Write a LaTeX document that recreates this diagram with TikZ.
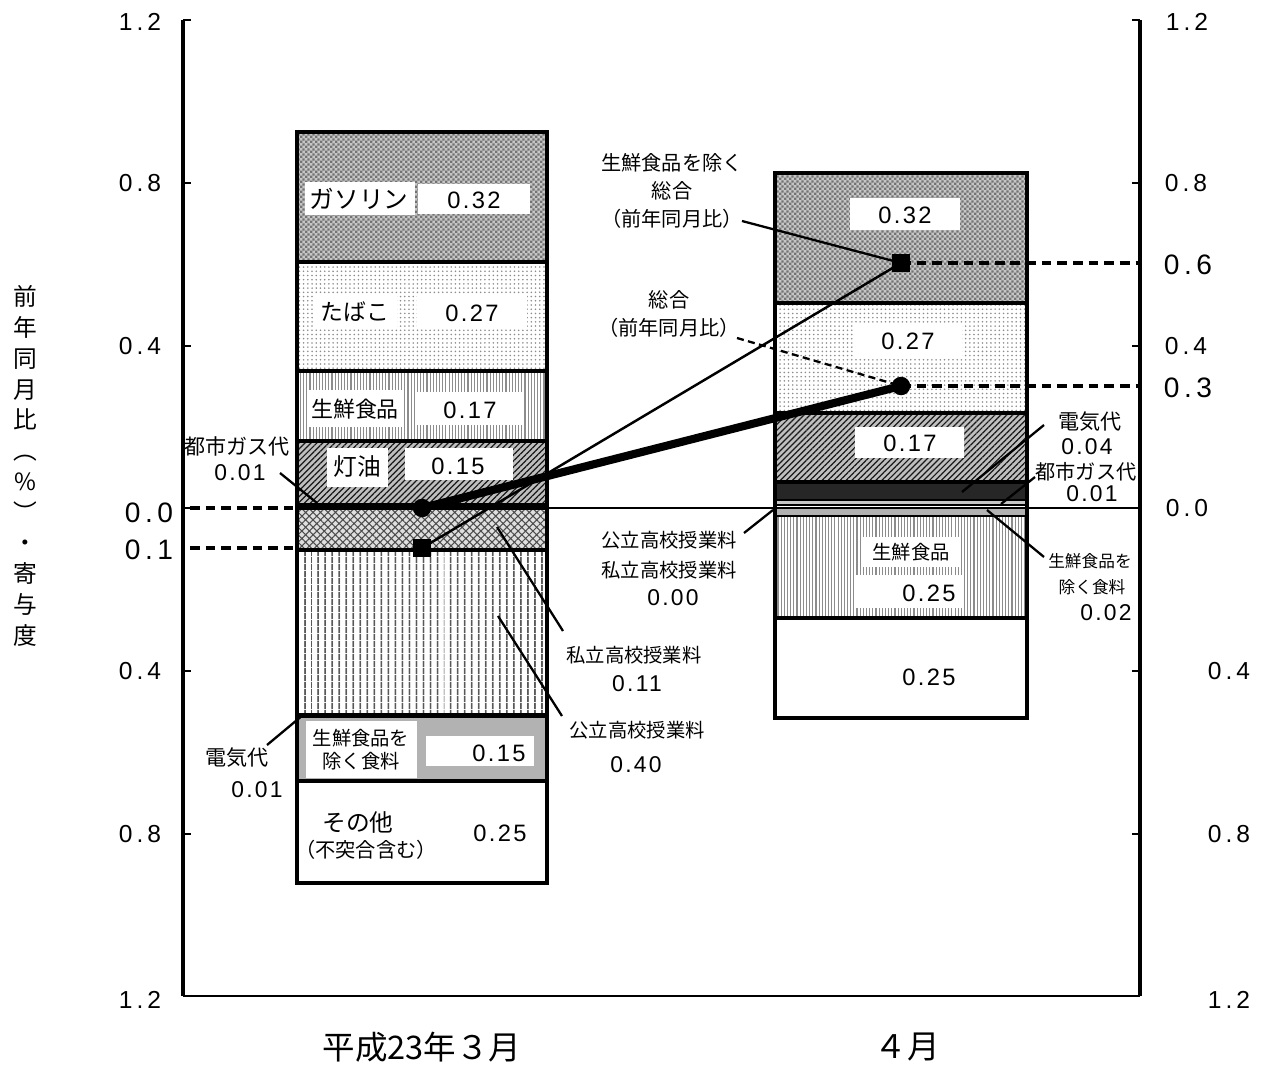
\documentclass[tikz,border=0pt]{standalone}
\usepackage{fontspec}
\setmainfont{Noto Sans CJK JP}
\newfontfamily\numf[LetterSpace=10]{Liberation Sans}
\newfontfamily\tickf[LetterSpace=16]{Liberation Sans}
\usetikzlibrary{patterns,patterns.meta}
\newcommand\myfs[1]{\fontsize{#1}{#1}\selectfont}
\tikzdeclarepattern{
  name=fcheck, type=uncolored,
  bounding box={(0pt,0pt) and (3pt,3pt)},
  tile size={(3pt,3pt)},
  code={\fill (0pt,0pt) rectangle (1.5pt,1.5pt); \fill (1.5pt,1.5pt) rectangle (3pt,3pt);}
}
\tikzset{
  lbl/.style={inner sep=0pt, align=center},
  jl/.style={lbl, font=\myfs{#1}},
  nl/.style={lbl, font=\numf\myfs{#1}},
  tl/.style={lbl, font=\tickf\myfs{#1}},
  gasol/.style={fill=gray!45, postaction={pattern=fcheck, pattern color=gray!90!black}},
  tobac/.style={fill=white, postaction={pattern={Dots[distance=2.4pt, radius=0.5pt]}, pattern color=gray!90}},
  fresh/.style={fill=white, postaction={pattern={Lines[angle=90, distance=1.8pt, line width=0.65pt]}, pattern color=gray!90}},
  kero/.style={fill=gray!50, postaction={pattern={Lines[angle=45, distance=2.4pt, line width=0.7pt]}, pattern color=gray!20!black}},
  priv/.style={fill=gray!25, postaction={pattern={Hatch[angle=45, distance=3pt, line width=0.6pt]}, pattern color=gray!60!black}},
  pub/.style={fill=white, postaction={pattern={Lines[angle=90, distance=4pt, line width=0.8pt]}, pattern color=black}},
  food/.style={fill=gray!60},
  gascity/.style={fill=gray!45},
  barline/.style={line width=2.1pt},
  sepline/.style={line width=1.4pt},
  axisline/.style={line width=2.1pt},
  tick/.style={line width=1.4pt},
  dline/.style={line width=2.1pt, dash pattern=on 5.5pt off 3.4pt},
  leader/.style={line width=1.3pt},
  dleader/.style={line width=1.3pt, dash pattern=on 4pt off 2.5pt},
  dot/.style={circle, fill=black, inner sep=0pt, minimum size=0.37cm},
  sq/.style={rectangle, fill=black, inner sep=0pt, minimum size=0.36cm},
  wbox/.style={fill=white}
}
\begin{document}
\begin{tikzpicture}[x=0.02cm, y=-0.02cm]
\useasboundingbox (0,0) rectangle (1263,1064);
% zero line
\draw[line width=0.8pt] (547,508) -- (1140,508);
% ---------- left bar ----------
\path[gasol] (297,132) rectangle (547,262);
\path[tobac] (297,262) rectangle (547,371);
\path[fresh] (297,371) rectangle (547,441);
\path[kero] (297,441) rectangle (547,503);
\fill[black] (297,503) rectangle (547,508);
\path[priv] (297,508) rectangle (547,550);
\path[pub] (297,550) rectangle (547,713);
\fill[black] (297,713) rectangle (547,718);
\path[food] (297,718) rectangle (547,781);
\fill[white] (297,781) rectangle (547,883);
\draw[barline] (297,132) rectangle (547,883);
\foreach \yy in {262,371,441,508,550,781}{\draw[barline] (297,\yy) -- (547,\yy);}
% ---------- right bar ----------
\path[gasol] (775,173) rectangle (1027,303);
\path[tobac] (775,303) rectangle (1027,413);
\path[kero] (775,413) rectangle (1027,482);
\fill[black!85] (775,482) rectangle (1027,500);
\path[gascity] (775,500) rectangle (1027,505);
\path[food] (775,508) rectangle (1027,516);
\path[fresh] (775,516) rectangle (1027,618);
\fill[white] (775,618) rectangle (1027,718);
\draw[barline] (775,173) rectangle (1027,718);
\foreach \yy in {303,413,482,618}{\draw[barline] (775,\yy) -- (1027,\yy);}
\foreach \yy in {500,505,508,516}{\draw[sepline] (775,\yy) -- (1027,\yy);}
% ---------- white label boxes ----------
\fill[wbox] (305,182) rectangle (415,215);
\fill[wbox] (418,184) rectangle (530,214);
\fill[wbox] (313,294) rectangle (397,328);
\fill[wbox] (417,294) rectangle (527,328);
\fill[wbox] (308,390) rectangle (402,427);
\fill[wbox] (417,392) rectangle (523,425);
\fill[wbox] (327,448) rectangle (388,487);
\fill[wbox] (405,448) rectangle (513,480);
\fill[wbox] (306,721) rectangle (417,778);
\fill[wbox] (426,736) rectangle (534,766);
\fill[wbox] (850,198) rectangle (960,230);
\fill[wbox] (855,325) rectangle (962,357);
\fill[wbox] (855,427) rectangle (964,458);
\fill[wbox] (862,537) rectangle (960,567);
\fill[wbox] (855,575) rectangle (964,608);
% ---------- axes ----------
\coordinate (lax) at (190,0);
\coordinate (bl) at (297,0);
\coordinate (rax) at (1140,0);
\draw[axisline] (183,20) -- (183,996);
\draw[axisline] (1140,20) -- (1140,996);
\draw[line width=1.4pt] (183,996) -- (1140,996);
\foreach \yy in {20,183,346,508,671,834,996}{
  \draw[tick] (183,\yy) -- (191,\yy);
  \draw[tick] (1132,\yy) -- (1140,\yy);
}
% ---------- markers ----------
\node[dot] (m1) at (422,508) {};
\node[sq] (s1) at (422,548) {};
\node[sq] (s2) at (901,263) {};
\node[dot] (m2) at (901,386) {};
\draw[dline] (m1 -| lax) -- (m1 -| bl);
\draw[dline] (s1 -| lax) -- (s1 -| bl);
\draw[dline] (s2.center) -- (s2 -| rax);
\draw[dline] (m2.center) -- (m2 -| rax);
\draw[line width=4.6pt] (m1.center) -- (m2.center);
\draw[line width=1.4pt] (s1.center) -- (s2.center);
% ---------- leader coordinates ----------
\coordinate (l1a) at (742,221);
\coordinate (l2a) at (737,338);
\coordinate (l3a) at (280,473); \coordinate (l3b) at (317,503);
\coordinate (l4a) at (267,745); \coordinate (l4b) at (303,715);
\coordinate (l5a) at (497,527); \coordinate (l5b) at (563,631);
\coordinate (l6a) at (498,616); \coordinate (l6b) at (562,716);
\coordinate (l7a) at (744,533); \coordinate (l7b) at (773,510);
\coordinate (l8a) at (1044,425); \coordinate (l8b) at (962,492);
\coordinate (l9a) at (1035,477); \coordinate (l9b) at (1001,504);
\coordinate (l10a) at (987,510); \coordinate (l10b) at (1044,557);
\draw[leader] (l1a) -- (s2.center);
\draw[dleader] (l2a) -- (m2.center);
\draw[leader] (l3a) -- (l3b);
\draw[leader] (l4a) -- (l4b);
\draw[leader] (l5a) -- (l5b);
\draw[leader] (l6a) -- (l6b);
\draw[leader] (l7a) -- (l7b);
\draw[leader] (l8a) -- (l8b);
\draw[leader] (l9a) -- (l9b);
\draw[leader] (l10a) -- (l10b);
% ---------- texts in bars ----------
\node[jl=14] (gasL) at (359,199) {ガソリン};
\node[nl=13.5] (gasLv) at (474,200) {0.32};
\node[jl=13] (tobL) at (355,312) {たばこ};
\node[nl=13.5] (tobLv) at (472,313) {0.27};
\node[jl=12.5] (frL) at (355,409) {生鮮食品};
\node[nl=13.5] (frLv) at (470,410) {0.17};
\node[jl=13.5] (keL) at (357,467) {灯油};
\node[nl=13.5] (keLv) at (458,466) {0.15};
\node[lbl, font=\fontsize{11}{13}\selectfont] (fdL) at (361,750) {生鮮食品を\\除く食料};
\node[nl=13.5] (fdLv) at (499,753) {0.15};
\node[jl=13.5] (otL) at (358,822) {その他};
\node[jl=11.5] (otL2) at (366,850) {（不突合含む）};
\node[nl=13.5] (otLv) at (500,833) {0.25};
\node[nl=13.5] (gasRv) at (905,215) {0.32};
\node[nl=13.5] (tobRv) at (908,341) {0.27};
\node[nl=13.5] (keRv) at (910,443) {0.17};
\node[jl=11] (frR) at (911,552) {生鮮食品};
\node[nl=13.5] (frRv) at (929,593) {0.25};
\node[nl=13.5] (otRv) at (929,677) {0.25};
% ---------- annotations ----------
\node[lbl, font=\fontsize{11.5}{16.2}\selectfont] (a1) at (672,191) {生鮮食品を除く\\総合\\（前年同月比）};
\node[lbl, font=\fontsize{11.5}{16}\selectfont] (a2) at (669,314) {総合\\（前年同月比）};
\node[jl=12] (a3) at (237,446) {都市ガス代};
\node[nl=13] (a3v) at (240,473) {0.01};
\node[jl=12] (a4) at (237,758) {電気代};
\node[nl=13] (a4v) at (257,790) {0.01};
\node[jl=11] (a5) at (634,655) {私立高校授業料};
\node[nl=13] (a5v) at (637,684) {0.11};
\node[jl=11] (a6) at (637,730) {公立高校授業料};
\node[nl=13] (a6v) at (636,765) {0.40};
\node[jl=11] (a7) at (669,540) {公立高校授業料};
\node[jl=11] (a7b) at (669,570) {私立高校授業料};
\node[nl=13] (a7v) at (673,598) {0.00};
\node[jl=12] (a8) at (1090,422) {電気代};
\node[nl=13] (a8v) at (1087,447) {0.04};
\node[jl=11.5] (a9) at (1086,472) {都市ガス代};
\node[nl=13] (a9v) at (1092,494) {0.01};
\node[jl=9.5] (a10) at (1090,561) {生鮮食品を};
\node[jl=9.5] (a10b) at (1092,587) {除く食料};
\node[nl=13] (a10v) at (1106,613) {0.02};
% ---------- tick labels ----------
\node[tl=14] (yl1) at (140,22) {1.2};
\node[tl=14] (yl2) at (140,183) {0.8};
\node[tl=14] (yl3) at (140,346) {0.4};
\node[tl=16] (yl4) at (149,513) {0.0};
\node[tl=16] (yl5) at (149,550) {0.1};
\node[tl=14] (yl6) at (140,671) {0.4};
\node[tl=14] (yl7) at (140,834) {0.8};
\node[tl=14] (yl8) at (140,1000) {1.2};
\node[tl=14] (yr1) at (1187,22) {1.2};
\node[tl=14] (yr2) at (1186,183) {0.8};
\node[tl=16] (yr3) at (1188,265) {0.6};
\node[tl=14] (yr4) at (1186,346) {0.4};
\node[tl=16] (yr5) at (1188,388) {0.3};
\node[tl=14] (yr6) at (1187,508) {0.0};
\node[tl=14] (yr7) at (1229,671) {0.4};
\node[tl=14] (yr8) at (1229,834) {0.8};
\node[tl=14] (yr9) at (1229,1000) {1.2};
% ---------- axis titles ----------
\node[lbl, font=\fontsize{13.5}{17.5}\selectfont] (ylab) at (25,466) {前\\年\\同\\月\\比\\︵\\\%\\︶\\・\\寄\\与\\度};
\node[jl=18.5] (xl1) at (422,1047) {平成23年３月};
\node[jl=18.5] (xl2) at (907,1047) {４月};
\end{tikzpicture}
\end{document}
